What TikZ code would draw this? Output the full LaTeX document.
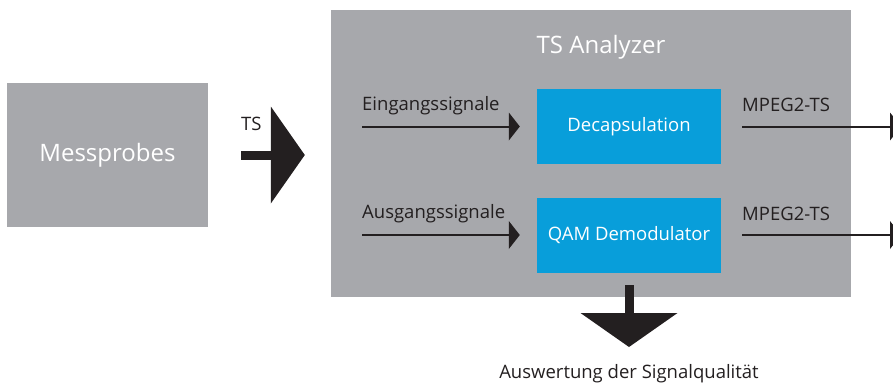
\documentclass[tikz,border=0pt]{standalone}
\usepackage{fontspec}
\setmainfont{Open Sans}
\usepackage{xcolor}
\usetikzlibrary{positioning,calc,arrows.meta}
\definecolor{boxgray}{RGB}{167,168,172}
\definecolor{blockblue}{RGB}{8,158,218}
\definecolor{arrowdark}{RGB}{35,31,32}

\begin{document}
\begin{tikzpicture}[x=1pt,y=-1pt,
    graybox/.style={fill=boxgray, text=white, inner sep=0pt},
    blueblock/.style={fill=blockblue, text=white, inner sep=0pt,
        minimum width=184pt, minimum height=75pt, font=\fontsize{18.5}{22}\selectfont},
    sig/.style={draw=arrowdark, line width=2pt,
        -{Triangle[length=11pt,width=28pt,line width=0pt]}},
    bigarrow/.style={draw=arrowdark, line width=9pt,
        -{Triangle[length=34pt,width=97pt,line width=0pt]}},
    lbl/.style={text=arrowdark, inner sep=0pt, font=\fontsize{18.5}{22}\selectfont}]
    \useasboundingbox (0,0) rectangle (893,386);

    % boxes
    \node[graybox, minimum width=201pt, minimum height=144pt,
        font=\fontsize{24}{28}\selectfont] (probes) at (107.5,155) {Messprobes};
    \node[graybox, minimum width=520pt, minimum height=287pt] (analyzer) at (591,153.5) {};
    \node[text=white, inner sep=0pt, anchor=base, font=\fontsize{24}{28}\selectfont]
        (title) at (601,53) {TS Analyzer};
    \node[blueblock] (decap) at (629,126.5) {Decapsulation};
    \node[blueblock] (qam) at (629,235) {QAM Demodulator};

    % TS input
    \draw[bigarrow, shorten <=33pt, shorten >=26pt] (probes.east) -- (probes.east -| analyzer.west);
    \node[lbl, anchor=base west] (ts) at (241,130) {TS};

    % inputs
    \coordinate (in1) at (362,126.5);
    \coordinate (in2) at (362,235);
    \draw[sig, shorten >=17pt] (in1) -- (decap.west);
    \draw[sig, shorten >=17pt] (in2) -- (qam.west);
    \node[lbl, anchor=base west] (ein) at (362,110) {Eingangssignale};
    \node[lbl, anchor=base west] (aus) at (362,218) {Ausgangssignale};

    % outputs
    \coordinate (out1) at (901,126.5);
    \coordinate (out2) at (901,235);
    \draw[sig, shorten <=21pt] (decap.east) -- (out1);
    \draw[sig, shorten <=21pt] (qam.east) -- (out2);
    \node[lbl, anchor=base west] (mp1) at (742,111) {MPEG2-TS};
    \node[lbl, anchor=base west] (mp2) at (742,220) {MPEG2-TS};

    % result
    \coordinate (qtip) at (629,347);
    \draw[bigarrow] ([yshift=12pt]decap |- analyzer.south) -- (qtip);
    \node[lbl, anchor=base] (quality) at (629,378) {Auswertung der Signalqualität};
\end{tikzpicture}
\end{document}
